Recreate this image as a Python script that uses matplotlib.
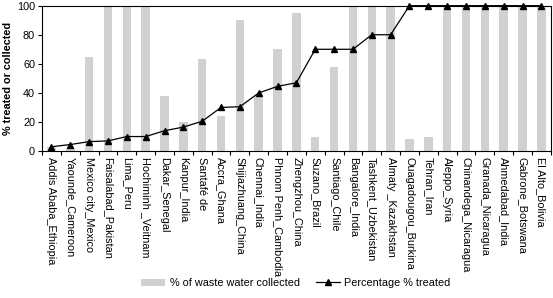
import matplotlib.pyplot as plt
from matplotlib.patches import Patch
from matplotlib.lines import Line2D

plt.rcParams["font.family"] = ["Liberation Sans", "DejaVu Sans"]

cities = [
    "Addis Ababa_Ethiopia", "Yaounde_Cameroon", "Mexico city_Mexico",
    "Faisalabad_Pakistan", "Lima_Peru", "Hochiminh _Veitnam", "Dakar_Senegal",
    "Kanpur_India", "Santafé de", "Accra_Ghana", "Shijiazhuang_China",
    "Chennai_India", "Phnom Penh_Cambodia", "Zhengzhou_China", "Suzano_Brazil",
    "Santiago_Chile", "Bangalore_India", "Tashkent_Uzbekistan",
    "Almaty _Kazakhstan", "Ouagadougou_Burkina", "Tehran_Iran", "Aleppo_Syria",
    "Chinandega_Nicaragua", "Granada_Nicaragua", "Ahmedabad_India",
    "Gabrone_Botswana", "El Alto_Bolivia",
]

# % of waste water collected (bars)
collected = [3, 2, 65, 100, 100, 100, 38, 20, 63, 24, 90, 38, 70, 95,
             10, 58, 100, 100, 100, 8, 10, 100, 100, 100, 100, 100, 100]

# Percentage % treated (line)
treated = [3, 4.5, 6.5, 7, 10, 10, 14, 16.5, 20.5, 30, 30.5, 40, 44.5, 47,
           70, 70, 70, 80, 80, 100, 100, 100, 100, 100, 100, 100, 100]

x = list(range(len(cities)))

fig = plt.figure(figsize=(5.53, 2.98), dpi=100)
ax = fig.add_axes([0.076, 0.493, 0.92, 0.488])

ax.bar(x, collected, width=0.45, color="#d1d1d1", zorder=1)
ax.plot(x, treated, color="black", linewidth=0.9, marker="^",
        markersize=5, zorder=3, clip_on=False)

ax.set_xlim(-0.5, len(cities) - 0.5)
ax.set_ylim(0, 100)
ax.set_yticks([0, 20, 40, 60, 80, 100])
ax.tick_params(axis="y", labelsize=7.8, length=3, width=0.8, pad=2)

ax.set_xticks(x)
ax.set_xticklabels(cities, rotation=270, fontsize=7.8, va="top", ha="center")
ax.tick_params(axis="x", which="major", length=0, pad=4)
ax.set_xticks([i - 0.5 for i in range(len(cities) + 1)], minor=True)
ax.tick_params(axis="x", which="minor", length=3, width=0.8)

ax.set_ylabel("% treated or collected", fontsize=7.8, fontweight="bold", labelpad=3)

for s in ax.spines.values():
    s.set_linewidth(0.8)

handles = [
    Patch(facecolor="#d1d1d1", edgecolor="none"),
    Line2D([], [], color="black", linewidth=0.9, marker="^", markersize=5),
]
fig.legend(handles, ["% of waste water collected", "Percentage % treated"],
           loc="center", bbox_to_anchor=(0.535, 0.05), ncol=2, frameon=False,
           fontsize=7.8, handlelength=2.2, columnspacing=1.5, handletextpad=0.4)

fig.savefig("out.png", dpi=100)
